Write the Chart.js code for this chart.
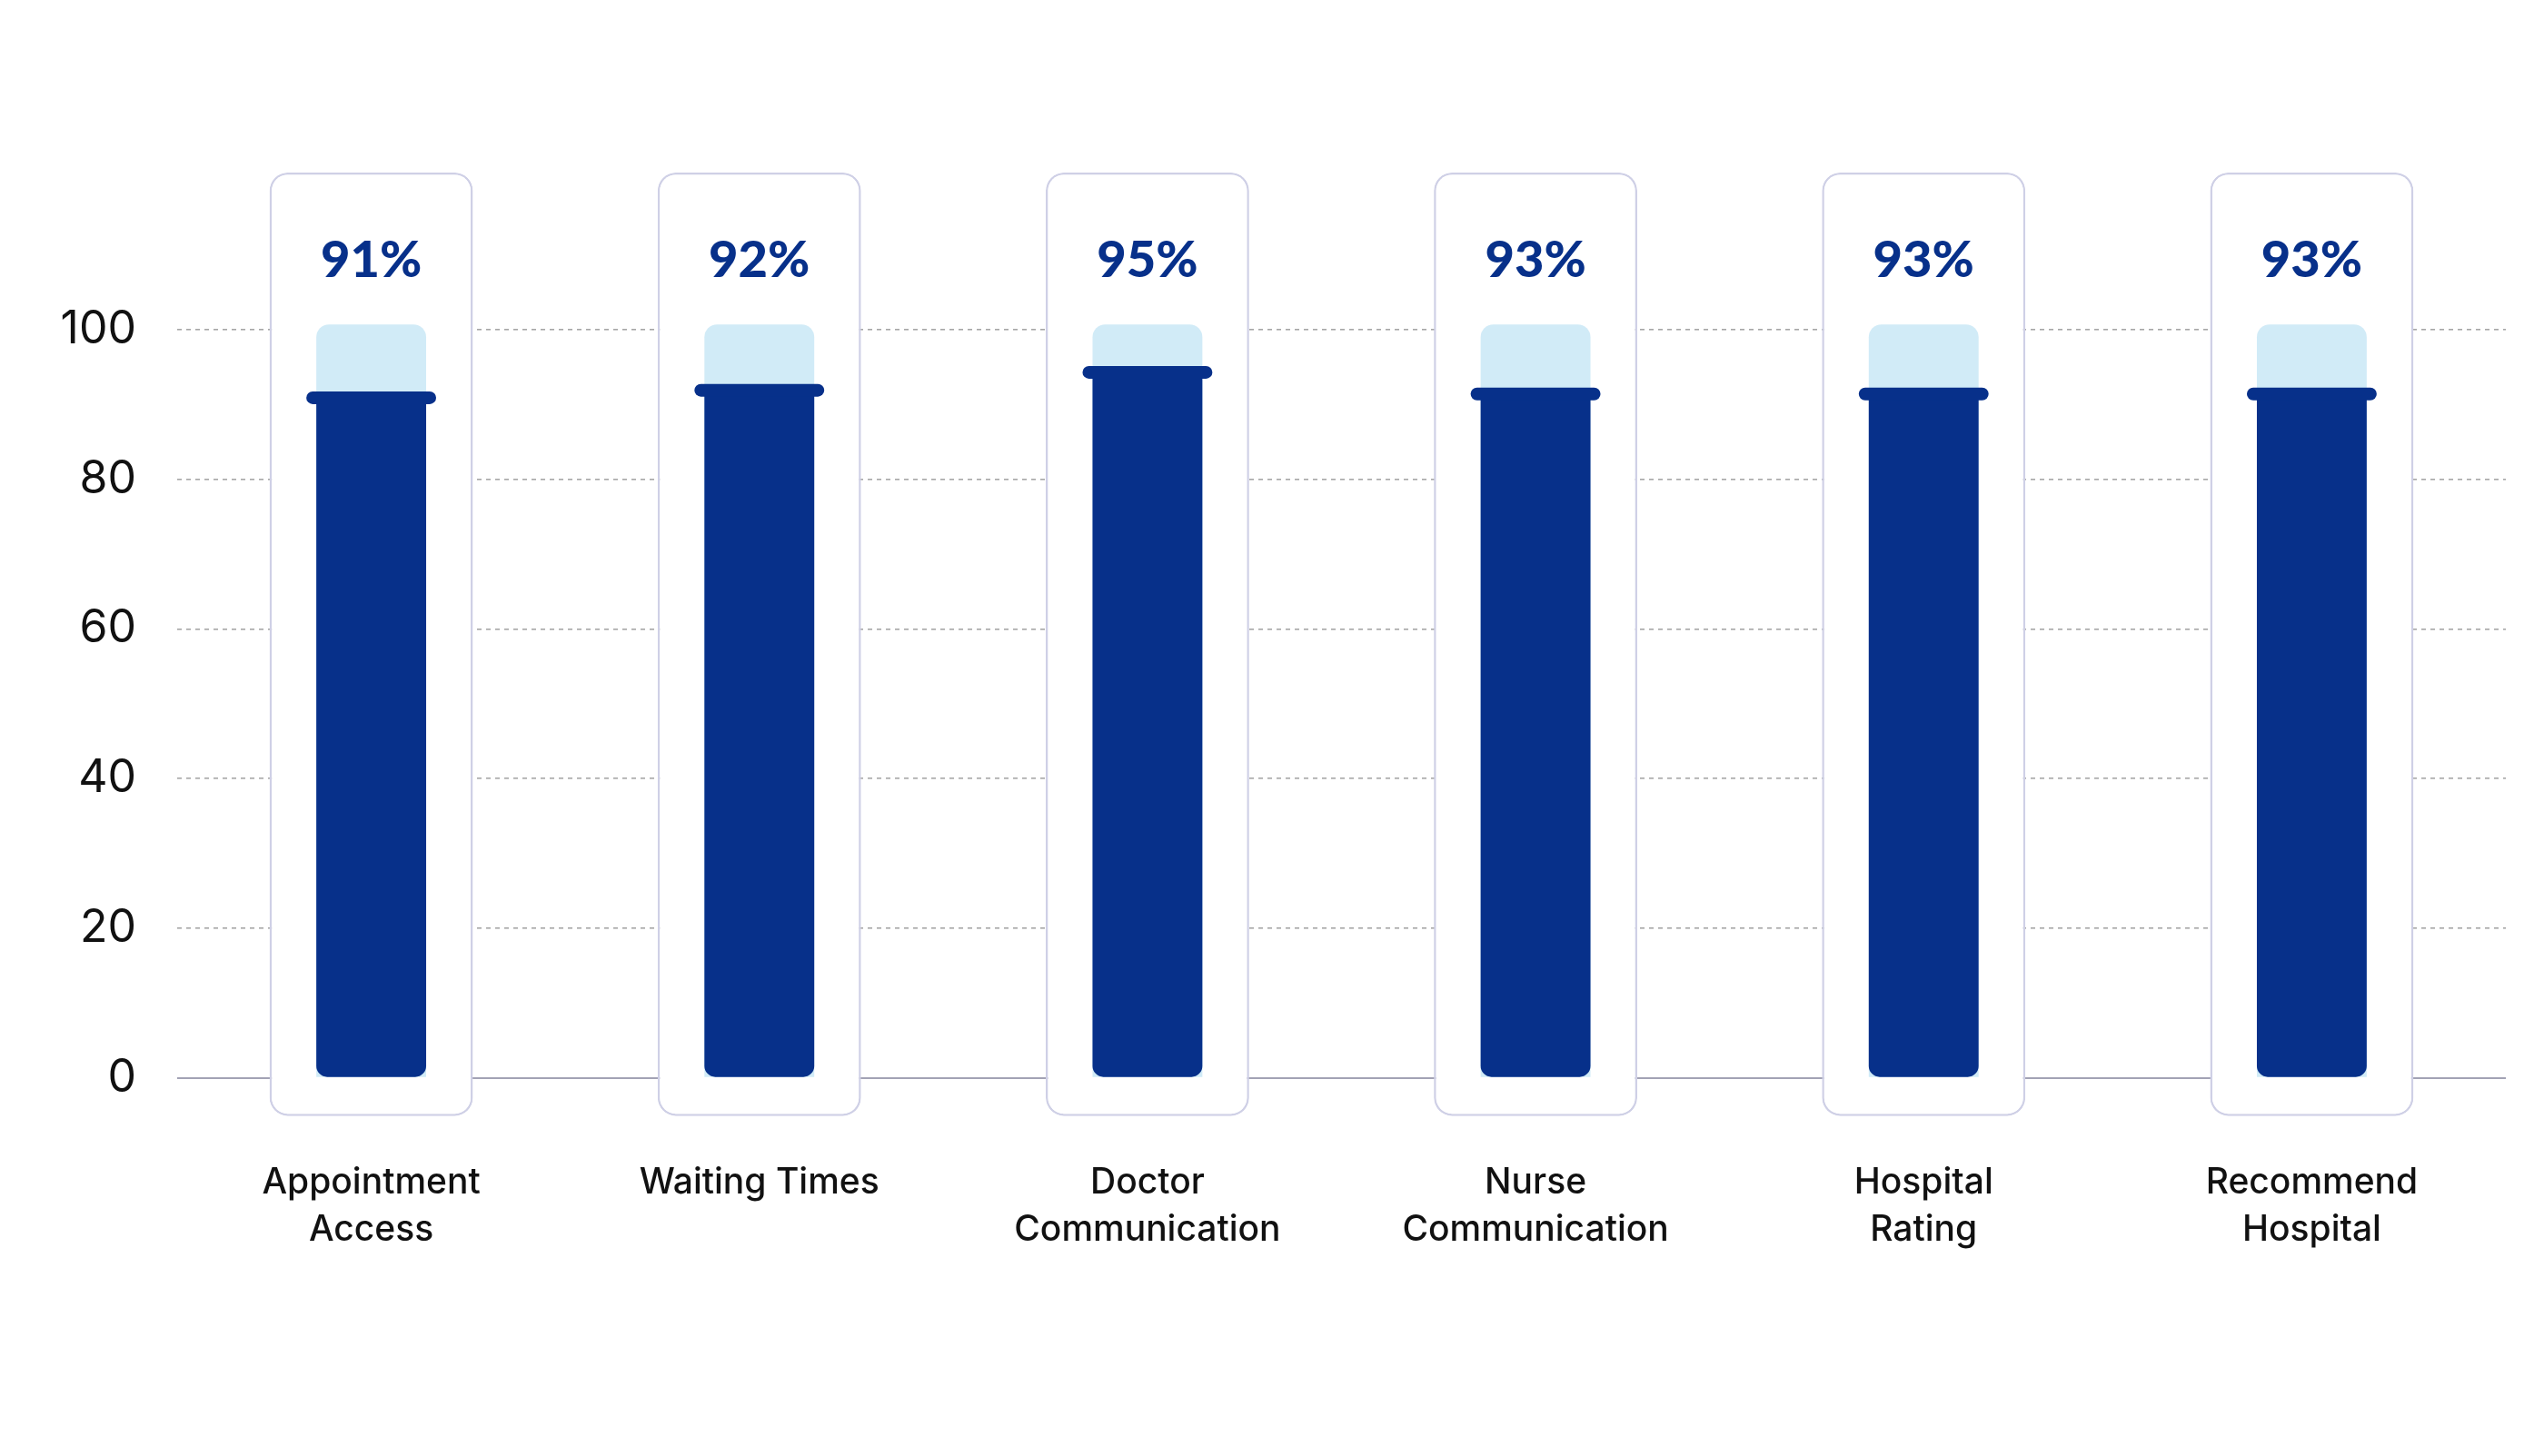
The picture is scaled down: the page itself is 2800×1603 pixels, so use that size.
<!DOCTYPE html>
<html>
<head>
<meta charset="utf-8">
<script src="https://cdn.jsdelivr.net/npm/chart.js@4.4.1/dist/chart.umd.min.js"></script>
<style>
  html, body { margin: 0; padding: 0; background: #ffffff; }
  canvas { display: block; }
</style>
</head>
<body>
<canvas id="surveyChart" width="2800" height="1603"></canvas>
<script>
// Chart data
const categories = [
    ['Appointment', 'Access'],
    ['Waiting Times'],
    ['Doctor', 'Communication'],
    ['Nurse', 'Communication'],
    ['Hospital', 'Rating'],
    ['Recommend', 'Hospital']
];
const scoreLabels = [91, 92, 95, 93, 93, 93];
const barValues = [90.9, 91.9, 94.3, 91.4, 91.4, 91.4];
const trackValues = [100.7, 100.7, 100.7, 100.7, 100.7, 100.7];
const cardRange = [-5.1, 121];
const yTicks = [0, 20, 40, 60, 80, 100];

Chart.defaults.font.family = "'Inter', 'Noto Sans', sans-serif";
Chart.defaults.color = '#111111';

const colors = {
    navy: '#07308a',
    track: '#d1ebf7',
    cardBorder: '#cfd0e6',
    grid: '#a6a6a6',
    baseline: '#a3a3b5'
};

// rounded cap across the top of each value bar + the % label inside each card
const cardDecorations = {
    id: 'cardDecorations',
    afterDatasetsDraw(chart) {
        const ctx = chart.ctx;
        const valueMeta = chart.getDatasetMeta(0);
        const cardMeta = chart.getDatasetMeta(2);

        ctx.save();
        ctx.strokeStyle = colors.navy;
        ctx.lineWidth = 14;
        ctx.lineCap = 'round';
        valueMeta.data.forEach(bar => {
            const half = bar.width / 2 + 4;
            ctx.beginPath();
            ctx.moveTo(bar.x - half, bar.y);
            ctx.lineTo(bar.x + half, bar.y);
            ctx.stroke();
        });

        ctx.fillStyle = colors.navy;
        ctx.font = "900 56px 'Lato', 'Inter', sans-serif";
        ctx.textAlign = 'center';
        ctx.textBaseline = 'middle';
        cardMeta.data.forEach((card, i) => {
            ctx.fillText(scoreLabels[i] + '%', card.x, card.y + 97);
        });
        ctx.restore();
    }
};

const ctx = document.getElementById('surveyChart').getContext('2d');
new Chart(ctx, {
    type: 'bar',
    data: {
        labels: categories,
        datasets: [
            {
                label: 'Score',
                data: barValues,
                backgroundColor: colors.navy,
                borderSkipped: false,
                borderRadius: { topLeft: 0, topRight: 0, bottomLeft: 12, bottomRight: 12 },
                barPercentage: 0.283,
                categoryPercentage: 1,
                grouped: false,
                order: 1
            },
            {
                label: 'Track',
                data: trackValues,
                backgroundColor: colors.track,
                borderSkipped: false,
                borderRadius: { topLeft: 14, topRight: 14, bottomLeft: 0, bottomRight: 0 },
                barPercentage: 0.283,
                categoryPercentage: 1,
                grouped: false,
                order: 2
            },
            {
                label: 'Card',
                data: categories.map(() => cardRange),
                backgroundColor: '#ffffff',
                borderColor: colors.cardBorder,
                borderWidth: 2.5,
                borderSkipped: false,
                borderRadius: 20,
                barPercentage: 0.524,
                categoryPercentage: 1,
                grouped: false,
                order: 3
            }
        ]
    },
    options: {
        responsive: false,
        devicePixelRatio: 1,
        animation: false,
        layout: {
            padding: { top: 157, right: 42, left: 0, bottom: 0 }
        },
        plugins: {
            legend: { display: false },
            tooltip: { enabled: false }
        },
        scales: {
            x: {
                offset: true,
                afterFit: scale => { scale.height = 334; },
                grid: { display: false, drawTicks: false },
                border: { display: false },
                ticks: {
                    padding: 7,
                    color: '#111111',
                    font: { size: 39, weight: 500, lineHeight: 1.33 }
                }
            },
            y: {
                min: -10,
                max: 125,
                afterFit: scale => { scale.width = 195; },
                afterBuildTicks: scale => {
                    scale.ticks = yTicks.map(v => ({ value: v }));
                },
                grid: {
                    drawTicks: false,
                    color: c => c.tick && c.tick.value === 0 ? colors.baseline : colors.grid,
                    lineWidth: c => c.tick && c.tick.value === 0 ? 2 : 1.6
                },
                border: {
                    display: false,
                    dash: c => c.tick && c.tick.value === 0 ? [] : [5, 5]
                },
                ticks: {
                    padding: 45,
                    color: '#111111',
                    font: { size: 50 }
                }
            }
        }
    },
    plugins: [cardDecorations]
});
</script>
</body>
</html>
